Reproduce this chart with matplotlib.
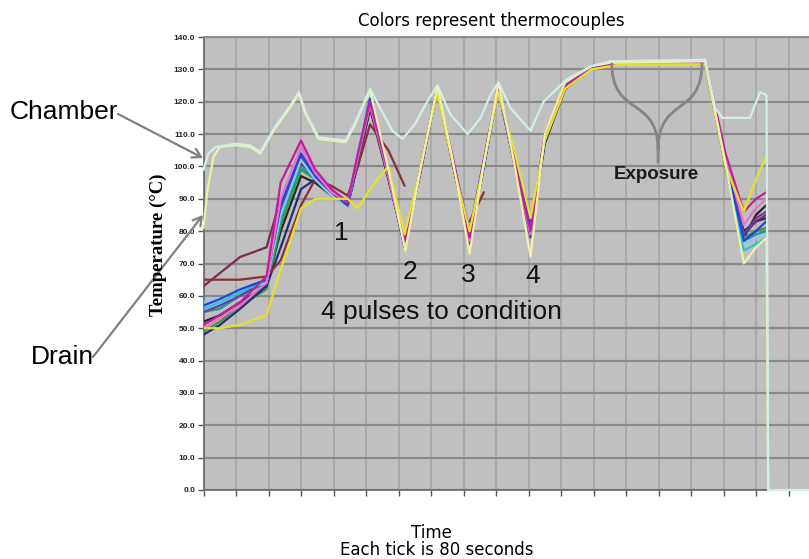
import numpy as np
import matplotlib
matplotlib.use("Agg")
import matplotlib.pyplot as plt
from matplotlib.path import Path
from matplotlib.patches import PathPatch

nan = np.nan

# time in seconds (each tick = 80 s)
t = [0, 40, 90, 155, 190, 240, 275, 315, 355, 380, 410, 455, 495, 535, 575,
     615, 655, 690, 725, 765, 805, 840, 890, 955, 1025, 1235, 1285, 1330, 1360, 1385]

magenta = [51, 54, 58, 66, 95, 108, 99, 93, 89, 104, 120, 98, 77, 100, 124,
           102, 78, 102, 125, 102, 80, 110, 125, 130.5, 132, 132.5, 104, 86, 90, 92]
pink = [50, 53, 57, 64, 90, 106, 98, 92, 89, 103, 119, 97, 76, 99, 124,
        101, 77, 101, 125, 101, 79, 109, 125, 130.5, 132, 132, 103, 82, 87, 90]
purple = [55, 57, 60, 65, 86, 103, 97, 92, 88, 102, 120, 97, 76, 100, 124,
          100, 76, 100, 124, 101, 78, 108, 124, 130.5, 132, 132, 101, 79, 84, 86]
blue = [57, 59, 62, 65, 88, 104, 97, 92, 88, 103, 121, 98, 76, 100, 124,
        101, 80, 102, 124, 104, 82, 109, 125, 131, 132.5, 132.5, 102, 77, 80, 83]
navy = [48, 51, 56, 63, 75, 93, 96, 92, 88, 101, 118, 97, 75, 99, 124,
        100, 78, 101, 124, 102, 79, 108, 124, 130.5, 132, 132, 101, 80, 83, 84]
cyan = [56, 58, 61, 65, 88, 106, 98, 92, 88, 104, 121, 98, 76, 100, 124,
        101, 78, 101, 124, 102, 79, 109, 125, 131, 132, 132, 100, 74, 76, 78]
lightblue = [58, 59, 62, 64, 85, 102, 96, 91, 88, 103, 121, 97, 76, 100, 124,
             101, 79, 101, 124, 102, 81, 109, 125, 131, 132, 132, 101, 76, 78, 79]
teal = [55, 56, 60, 64, 84, 100, 96, 91, 88, 102, 120, 97, 76, 99, 124,
        100, 78, 100, 124, 102, 80, 108, 124, 130.5, 132, 132, 101, 77, 79, 80]
green = [49, 52, 57, 62, 82, 99, 96, 91, 88, 102, 119, 97, 76, 99, 124,
         100, 78, 100, 124, 101, 80, 108, 124, 130.5, 132, 132, 101, 78, 80, 81]
maroon = [63, 67, 72, 75, 90, 101, 97, 92, 88, 101, 119, 97, 76, 99, 124,
          100, 79, 101, 124, 102, 80, 108, 124, 130.5, 132, 132, 101, 79, 83, 85]
brown = [65, 65, 65, 66, 71, 88, 96, 94, 91, 100, 113, 105, 94, nan, nan,
         nan, 83, 92, nan, nan, nan, nan, nan, nan, nan, nan, nan, nan, nan, nan]
yellow = [50, 50, 51, 54, 68, 87, 90, 90, 90, 87, 93, 100, 79, 100, 123,
          100, 80, 101, 123, 105, 84, 108, 124, 130, 131.5, 131.5, 100, 86, 96, 103]
black = [52, 54, 58, 63, 80, 97, 95, 91, 88, 101, 118, 96, 76, 99, 124,
         100, 77, 100, 124, 101, 79, 107, 124, 130.5, 132, 132, 100, 78, 85, 88]

tc_series = [
    (black, "#262626"), (green, "#3a9a40"), (teal, "#1a9c9c"), (navy, "#1f2d7a"),
    (maroon, "#7a2a55"), (brown, "#8a3038"), (purple, "#6a3aa8"), (lightblue, "#8ec8f2"),
    (cyan, "#22c4e0"), (blue, "#2244dd"), (pink, "#f070c8"), (magenta, "#c0209c"),
    (yellow, "#e6e02a"),
]

# chamber probe
t_ch = [0, 12, 30, 80, 115, 140, 175, 215, 235, 250, 283, 350, 375, 410, 435, 465,
        490, 520, 555, 576, 608, 650, 682, 706, 726, 756, 805, 837, 895, 955, 1000,
        1235, 1260, 1277, 1345, 1370, 1386, 1390, 1600]
chamber = [99, 104, 106, 107, 106.5, 104.5, 112, 119, 123, 117, 109, 108, 114, 124, 118, 111,
           108.5, 113, 121, 125, 116, 110, 115, 122, 126, 118, 111, 120, 127, 131, 132.5,
           133, 118, 115, 115, 123, 122, 0, 0]

# drain probe
t_dr = [0, 10, 25, 40, 80, 115, 140, 175, 215, 235, 250, 283, 350, 375, 410, 455, 497,
        535, 576, 615, 655, 690, 726, 765, 805, 840, 890, 955, 1000, 1235, 1285, 1330,
        1360, 1386, 1390, 1600]
drain = [81, 93, 103, 106, 106.5, 106, 104, 111.5, 118.5, 122.5, 116.5, 108.5, 107.5, 113.5,
         123.5, 99, 74, 100, 125, 101, 73, 101, 126, 101, 72, 110, 126, 131, 132, 132.5,
         101, 70, 75, 78, 0, 0]

W, H = 809, 559
fig = plt.figure(figsize=(W / 100, H / 100), dpi=100)
fig.patch.set_facecolor("white")

x0, x1, y0, y1 = 203.5, 853.5, 37, 490
ax = fig.add_axes([x0 / W, 1 - y1 / H, (x1 - x0) / W, (y1 - y0) / H])
ax.set_facecolor("#c0c0c0")
ax.set_xlim(0, 1600)
ax.set_ylim(0, 140)

for vals, col in tc_series:
    ax.plot(t, vals, color=col, lw=1.6, solid_capstyle="round", zorder=3)
ax.plot(t_dr, drain, color="#eef0a8", lw=1.6, zorder=4, clip_on=False)
ax.plot(t_ch, chamber, color="#d2eee6", lw=1.6, zorder=5, clip_on=False)

ax.set_xticks(np.arange(0, 1601, 80))
ax.set_xticklabels([])
yt = np.arange(0, 141, 10)
ax.set_yticks(yt)
ax.set_yticklabels([f"{v:.1f}" for v in yt], fontsize=6, fontweight="bold",
                   family="Liberation Sans", color="#222222")
ax.tick_params(axis="x", direction="out", length=4, width=1, color="#555555")
ax.tick_params(axis="y", direction="out", length=4, width=1, color="#555555", pad=2)
ax.set_axisbelow(True)
ax.yaxis.grid(True, color="#8a8a8a", lw=1.6)
ax.xaxis.grid(True, color="#a6a6a6", lw=1.2)
ax.spines["right"].set_visible(False)
ax.spines["top"].set_color("#8a8a8a")
ax.spines["left"].set_color("#6e6e6e")
ax.spines["bottom"].set_color("#6e6e6e")
for s in ["top", "left", "bottom"]:
    ax.spines[s].set_linewidth(1.3)

# exposure brace
brace = Path(
    [(1005, 132), (1005, 115), (1119, 122), (1119, 105),
     (1119, 122), (1227, 115), (1227, 132),
     (1119, 105), (1119, 101)],
    [Path.MOVETO, Path.CURVE4, Path.CURVE4, Path.CURVE4,
     Path.CURVE4, Path.CURVE4, Path.CURVE4,
     Path.MOVETO, Path.LINETO])
ax.add_patch(PathPatch(brace, fill=False, ec="#858585", lw=2, zorder=6))
ax.text(1114, 97.5, "Exposure", ha="center", va="center", fontsize=13.5,
        fontweight="bold", family="Liberation Sans", color="#1a1a1a", zorder=7)

sans = "Liberation Sans"
for lab, xx, yy in [("1", 338, 79.5), ("2", 508, 67.5), ("3", 651, 66.5), ("4", 811, 66)]:
    ax.text(xx, yy, lab, ha="center", va="center", fontsize=19, family=sans, color="#111111")
ax.text(585, 55, "4 pulses to condition", ha="center", va="center", fontsize=19,
        family=sans, color="#111111")

# titles / labels
fig.text(491 / W, 1 - 21 / H, "Colors represent thermocouples", ha="center", va="center",
         fontsize=12, family="DejaVu Sans")
fig.text(431 / W, 1 - 533 / H, "Time", ha="center", va="center", fontsize=12)
fig.text(437 / W, 1 - 550 / H, "Each tick is 80 seconds", ha="center", va="center", fontsize=12)
fig.text(158 / W, 1 - 245 / H, "Temperature (°C)", rotation=90, ha="center", va="center",
         fontsize=13.5, fontweight="bold", family="Liberation Serif")

fig.text(10 / W, 1 - 112 / H, "Chamber", ha="left", va="center", fontsize=19, family=sans)
fig.text(31 / W, 1 - 357 / H, "Drain", ha="left", va="center", fontsize=19, family=sans)

arrow = dict(arrowstyle="->,head_length=0.6,head_width=0.35", color="#808080", lw=1.6,
             shrinkA=0, shrinkB=0)
ax.annotate("", xy=(203, H - 158), xytext=(118, H - 114), xycoords="figure pixels",
            textcoords="figure pixels", arrowprops=arrow, annotation_clip=False)
ax.annotate("", xy=(203, H - 215), xytext=(93, H - 357), xycoords="figure pixels",
            textcoords="figure pixels", arrowprops=arrow, annotation_clip=False)

fig.savefig("out.png", dpi=100)
